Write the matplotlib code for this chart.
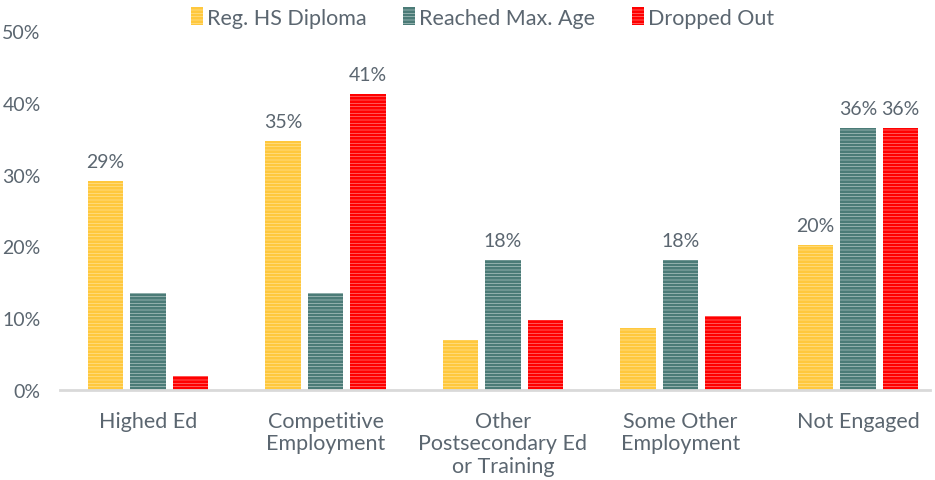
import matplotlib.pyplot as plt
import numpy as np

categories = ["Highed Ed", "Competitive\nEmployment", "Other\nPostsecondary Ed\nor Training",
              "Some Other\nEmployment", "Not Engaged"]
series_names = ["Reg. HS Diploma", "Reached Max. Age", "Dropped Out"]
diploma = [29.1, 34.7, 7.0, 8.6, 20.2]
max_age = [13.5, 13.5, 18.1, 18.1, 36.5]
dropped = [1.9, 41.2, 9.8, 10.3, 36.5]
# which bars carry a label (None = no label)
diploma_labels = ["29%", "35%", None, None, "20%"]
max_age_labels = [None, None, "18%", "18%", "36%"]
dropped_labels = [None, "41%", None, None, "36%"]
yticks = [0, 10, 20, 30, 40, 50]

colors = ["#FFC83D", "#4B7B77", "#FF0000"]
lights = ["#FFE7A6", "#C9D8D6", "#FF9A9A"]
text_col = "#5B6670"
fs_num = 14
fs_txt = 15.5

plt.rcParams['font.family'] = ['Lato', 'DejaVu Sans']
plt.rcParams['hatch.linewidth'] = 2.0

fig = plt.figure(figsize=(9.35, 4.81), dpi=100)
ax = fig.add_axes([60 / 935, 1 - 391 / 481, 870 / 935, 359 / 481])

x = np.arange(len(categories))
w = 0.2
off = 0.24
all_vals = [diploma, max_age, dropped]
all_labels = [diploma_labels, max_age_labels, dropped_labels]
for i, (vals, labs) in enumerate(zip(all_vals, all_labels)):
    pos = x + (i - 1) * off
    ax.bar(pos, vals, w, color=lights[i], edgecolor=colors[i], linewidth=0,
           hatch="-----", label=series_names[i])
    for p, v, lab in zip(pos, vals, labs):
        if lab:
            ax.text(p, v + 1.5, lab, ha="center", va="bottom", fontsize=fs_num, color=text_col)

ax.set_ylim(0, 50)
ax.set_xlim(-0.496, 4.406)
ax.set_yticks(yticks)
ax.set_yticklabels([f"{t}%" for t in yticks])
ax.set_xticks(x)
ax.set_xticklabels(categories, linespacing=1.15, fontsize=fs_txt)
ax.tick_params(axis="both", length=0, colors=text_col)
ax.tick_params(axis="y", pad=14, labelsize=fs_num)
ax.tick_params(axis="x", pad=15)
for s in ["top", "right", "left"]:
    ax.spines[s].set_visible(False)
ax.spines["bottom"].set_color("#D9D9D9")
ax.spines["bottom"].set_linewidth(2)

leg = ax.legend(loc="upper center", bbox_to_anchor=(0.4856, 1.12), ncol=3, frameon=False,
                fontsize=fs_txt, handlelength=0.55, handleheight=0.9, handletextpad=0.2,
                columnspacing=1.7)
for t in leg.get_texts():
    t.set_color(text_col)

fig.savefig("out.png", dpi=100)
